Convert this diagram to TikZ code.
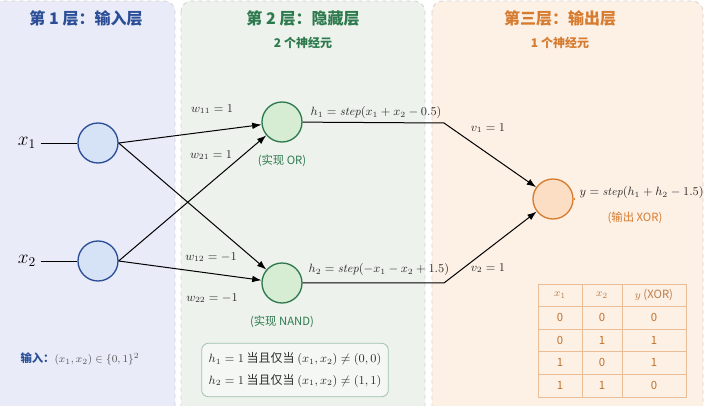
\documentclass[tikz,border=0pt]{standalone}
\usepackage{fontspec}
\usepackage{amsmath,amssymb}
\newfontfamily\cjk{Noto Sans CJK SC}
\usetikzlibrary{positioning, arrows.meta}
\definecolor{bluebg}{RGB}{233,236,248}
\definecolor{greenbg}{RGB}{237,242,236}
\definecolor{orangebg}{RGB}{253,240,229}
\definecolor{bluedk}{RGB}{43,78,150}
\definecolor{greendk}{RGB}{46,122,78}
\definecolor{orangedk}{RGB}{214,124,48}
\definecolor{bluefill}{RGB}{214,226,246}
\definecolor{greenfill}{RGB}{214,236,211}
\definecolor{orangefill}{RGB}{252,222,196}
\definecolor{ink}{RGB}{45,45,45}
\tikzset{
panel/.style={rounded corners=8pt, draw=gray!35, dashed, line width=0.6pt},
neuron/.style={shape=circle, minimum size=30pt, inner sep=0, line width=1pt},
inp/.style={neuron, draw=bluedk, fill=bluefill}, hid/.style={neuron, draw=greendk, fill=greenfill}, outp/.style={neuron, draw=orangedk, fill=orangefill},
title/.style={font=\cjk\bfseries\fontsize{12}{14}\selectfont},
subtitle/.style={font=\cjk\bfseries\fontsize{9}{11}\selectfont},
wlabel/.style={font=\fontsize{9}{11}\selectfont, text=ink},
note/.style={font=\cjk\fontsize{8.5}{10}\selectfont},
syn/.style={-{Latex[length=7pt, width=5pt]}, line width=0.75pt, draw=black}}

\begin{document}
\begin{tikzpicture}[x=0.75pt, y=-0.75pt]
\useasboundingbox (0,0) rectangle (704,406);
\clip (0,0) rectangle (704,406);
\draw [panel, fill=bluebg] (-20,1) rectangle (175,440);
\draw [panel, fill=greenbg] (181,1) rectangle (425,440);
\draw [panel, fill=orangebg] (432,1) rectangle (703,440);

\node [title, text=bluedk] at (86,18) (t-1) {第 1 层：输入层};
\node [title, text=greendk] at (303,18) (t-2) {第 2 层：隐藏层};
\node [subtitle, text=greendk] at (303,43) (s-2) {2 个神经元};
\node [title, text=orangedk] at (560,18) (t-3) {第三层：输出层};
\node [subtitle, text=orangedk] at (560,43) (s-3) {1 个神经元};

\foreach \yy [count=\i] in {143, 261}{
      \node [inp] at (98, \yy) (in-\i) {};
      \node [font=\fontsize{14}{16}\selectfont] at (27, \yy) (x-\i) {$x_{\i}$};
      \draw [line width=0.6pt] (x-\i) -- (in-\i);
}
\node [hid] at (282, 122) (hid-1) {};
\node [hid] at (282, 283) (hid-2) {};
\node [outp] at (553, 199) (out) {};
\foreach \i in {1, 2}{
      \foreach \j in {1, 2}{
            \draw [syn] (in-\i.east) -- (hid-\j);
      }
}
\node [wlabel] at (212, 109) (w-11) {$w_{11} = 1$};
\node [wlabel] at (211, 155) (w-21) {$w_{21} = 1$};
\node [wlabel] at (211, 257) (w-12) {$w_{12} = -1$};
\node [wlabel] at (212, 298) (w-22) {$w_{22} = -1$};

\node [wlabel, anchor=west] at (306, 113) (h-1) {$h_1 = \mathit{step}(x_1 + x_2 - 0.5)$};
\node [wlabel, anchor=west] at (304, 270) (h-2) {$h_2 = \mathit{step}(-x_1 - x_2 + 1.5)$};
\node [note, text=greendk, below=6pt of hid-1] (g-1) {(实现 OR)};
\node [note, text=greendk, below=6pt of hid-2] (g-2) {(实现 NAND)};

\coordinate (b-1) at (444, 123);
\coordinate (b-2) at (444, 283);
\draw [syn] (hid-1) -- (b-1) -- (out);
\draw [syn] (hid-2) -- (b-2) -- (out);
\node [wlabel] at (488, 128) (v-1) {$v_1 = 1$};
\node [wlabel] at (488, 268) (v-2) {$v_2 = 1$};

\node [wlabel, anchor=west, font=\fontsize{8.6}{10}\selectfont] at (575, 193) (y-out) {$y = \mathit{step}(h_1 + h_2 - 1.5)$};
\draw [orangedk, line width=0.8pt] (out.east) -- (out.east -| y-out.west);
\node [note, text=orangedk] at (635, 218) (g-3) {(输出 XOR)};

\node [draw=greendk!45, fill=greenbg!60!white, rounded corners=5pt, line width=0.6pt,
      minimum width=140pt, minimum height=40pt, align=left, text=ink,
      font=\cjk\fontsize{9}{16}\selectfont] at (295, 370) (cond)
      {$h_1 = 1$ 当且仅当 $(x_1, x_2) \neq (0,0)$\\ $h_2 = 1$ 当且仅当 $(x_1, x_2) \neq (1,1)$};

\node [font=\fontsize{8.5}{10}\selectfont, text=ink!80] at (80, 359) (domain)
      {{\cjk\bfseries\color{bluedk}输入：}$(x_1, x_2) \in \{0,1\}^2$};

\draw [orangedk!50, line width=0.6pt] (538, 284) rectangle (686, 397);
\foreach \yy in {306, 329, 351, 374}{
      \draw [orangedk!50, line width=0.6pt] (538, \yy) -- (686, \yy);
}
\foreach \xx in {582, 622}{
      \draw [orangedk!50, line width=0.6pt] (\xx, 284) -- (\xx, 397);
}
\node [note, text=orangedk!70!gray] at (560, 295) (c-1) {$x_1$};
\node [note, text=orangedk!70!gray] at (602, 295) (c-2) {$x_2$};
\node [note, text=orangedk!70!gray] at (654, 295) (c-3) {$y$ (XOR)};
\foreach \a/\b/\c [count=\r, evaluate={\yy=295+22.6*\r;}] in {0/0/0, 0/1/1, 1/0/1, 1/1/0}{
      \node [note, text=orangedk!90!black] at (560, \yy) (r-\r-1) {\a};
      \node [note, text=orangedk!90!black] at (602, \yy) (r-\r-2) {\b};
      \node [note, text=orangedk!90!black] at (654, \yy) (r-\r-3) {\c};
}
\end{tikzpicture}
\end{document}
